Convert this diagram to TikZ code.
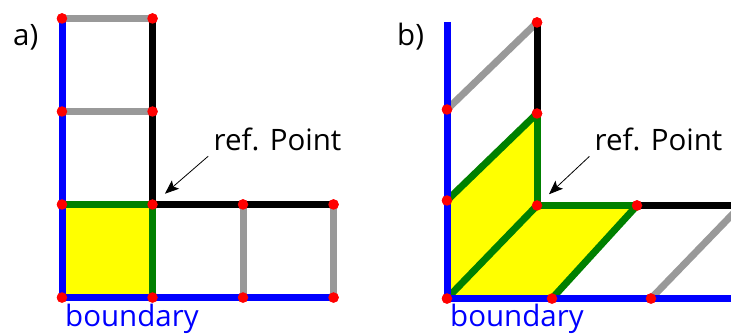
\documentclass[tikz,border=0pt]{standalone}
\usepackage{fontspec}
\setmainfont{Open Sans}
\usetikzlibrary{positioning,arrows.meta}
\definecolor{bndblue}{RGB}{0,0,255}
\definecolor{cellgreen}{RGB}{0,128,0}
\definecolor{edgegray}{RGB}{153,153,153}
\definecolor{cellyellow}{RGB}{255,255,0}
\definecolor{dotred}{RGB}{255,0,0}
\tikzset{
    refdot/.style={
        circle,fill=dotred,inner sep=0pt,minimum size=10.5pt,on grid,node distance=90.5pt
    },
    bndline/.style={
        draw=bndblue,line width=7pt
    },
    cellline/.style={
        draw=cellgreen,line width=7pt
    },
    grayline/.style={
        draw=edgegray,line width=7pt
    },
    blackline/.style={
        draw=black,line width=7pt
    },
    labeltext/.style={
        anchor=base west,inner sep=0pt,font=\fontsize{29.5}{32}\selectfont
    },
    refarrow/.style={
        -{Stealth[length=14pt,width=11pt,inset=3pt]},line width=.8pt,shorten <=7pt,shorten >=11pt
    }
}

\begin{document}
\begin{tikzpicture}[x=1pt,y=1pt]
\clip (0,0) rectangle (731,334);
% panel a
\node[refdot] (a00) at (62,36.5) {};
\node[refdot,right=of a00] (a10) {};
\node[refdot,right=of a10] (a20) {};
\node[refdot,right=of a20] (a30) {};
\node[refdot,above=93pt of a00] (a01) {};
\node[refdot,right=of a01] (a11) {};
\node[refdot,right=of a11] (a21) {};
\node[refdot,right=of a21] (a31) {};
\node[refdot,above=93pt of a01] (a02) {};
\node[refdot,right=of a02] (a12) {};
\node[refdot,above=93pt of a02] (a03) {};
\node[refdot,right=of a03] (a13) {};
% panel b
\node[refdot] (b00) at (447,35.5) {};
\node[refdot,above=98pt of b00] (b01) {};
\node[refdot,above=91pt of b01] (b02) {};
\node[refdot,right=105pt of b00] (b10) {};
\node[refdot,right=99pt of b10] (b20) {};
\node[refdot,right=90pt of b01,yshift=-5pt] (bref) {};
\node[refdot,right=100pt of bref] (b21) {};
\node[refdot,above=92pt of bref] (b12) {};
\node[refdot,above=91pt of b12] (b13) {};
\coordinate (btop) at (447,312);
\coordinate (bright) at (731,35.5);
\coordinate (brightup) at (731,128.5);
\coordinate (bcut) at (741,128.5);
% labels
\node[labeltext] (la) at (13,288) {a)};
\node[labeltext] (lb) at (397,288) {b)};
\node[labeltext] (refa) at (213.5,183) {ref. Point};
\node[labeltext] (refb) at (594.5,183) {ref. Point};
\node[labeltext,text=bndblue] (bnda) at (65,7.5) {boundary};
\node[labeltext,text=bndblue] (bndb) at (450,7.5) {boundary};
% fills
\fill[cellyellow] (a00.center) -- (a01.center) -- (a11.center) -- (a10.center) -- cycle;
\fill[cellyellow] (b00.center) -- (b01.center) -- (b12.center) -- (bref.center) -- (b21.center) -- (b10.center) -- cycle;
% panel a lines
\draw[grayline] (a03.center) -- (a13.center);
\draw[grayline] (a02.center) -- (a12.center);
\draw[grayline] (a20.center) -- (a21.center);
\draw[grayline] (a30.center) -- (a31.center);
\draw[blackline] (a13.center) -- (a11.center);
\draw[blackline] (a11.center) -- (a31.center);
\draw[cellline] (a01.center) -- (a11.center);
\draw[cellline] (a11.center) -- (a10.center);
\draw[bndline] (a03.center) -- (a00.center);
\draw[bndline] (a00.center) -- (a30.center);
% panel b lines
\draw[grayline] (b02.center) -- (b13.center);
\draw[grayline] (b20.center) -- (bcut);
\draw[blackline] (b13.center) -- (b12.center);
\draw[blackline] (b21.center) -- (brightup);
\draw[cellline] (b01.center) -- (b12.center);
\draw[cellline] (b12.center) -- (bref.center);
\draw[cellline] (bref.center) -- (b21.center);
\draw[cellline] (b21.center) -- (b10.center);
\draw[cellline] (bref.center) -- (b00.center);
\draw[bndline] (btop) -- (b00.center);
\draw[bndline] (b00.center) -- (bright);
% dots on top
\foreach \n in {a00,a10,a20,a30,a01,a11,a21,a31,a02,a12,a03,a13,b00,b01,b02,b10,b20,bref,b21,b12,b13}
    \node[refdot] at (\n) {};
% arrows
\draw[refarrow] (refa.south west) -- (a11);
\draw[refarrow] (refb.south west) -- (bref);
\end{tikzpicture}
\end{document}
